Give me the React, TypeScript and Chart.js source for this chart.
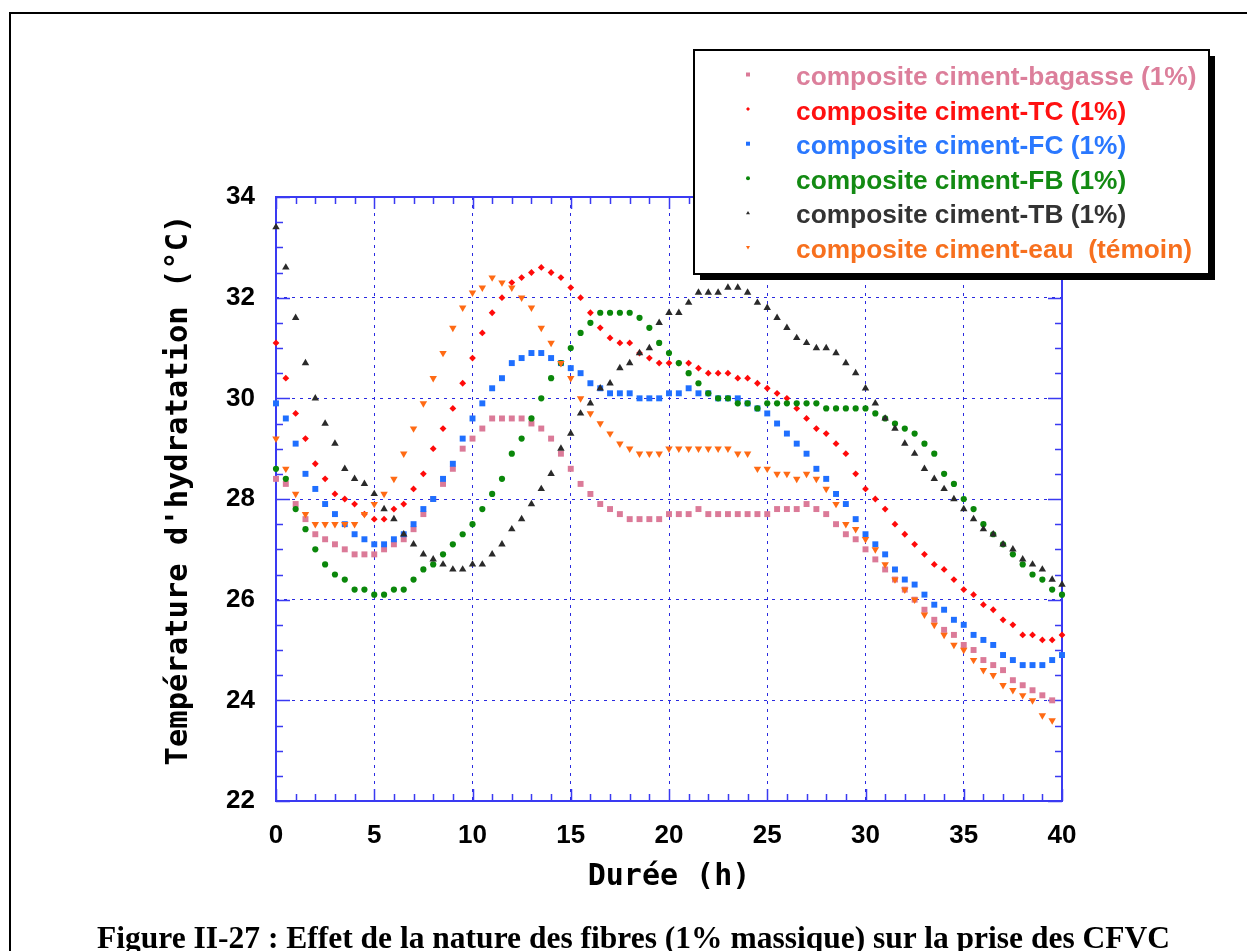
import React, { useEffect, useRef } from 'react';
import { Chart, registerables } from 'chart.js';

Chart.register(...registerables);

// ---------- data ----------
const HOURS = [
  0, 0.5, 1, 1.5, 2, 2.5, 3, 3.5, 4, 4.5,
  5, 5.5, 6, 6.5, 7, 7.5, 8, 8.5, 9, 9.5,
  10, 10.5, 11, 11.5, 12, 12.5, 13, 13.5, 14, 14.5,
  15, 15.5, 16, 16.5, 17, 17.5, 18, 18.5, 19, 19.5,
  20, 20.5, 21, 21.5, 22, 22.5, 23, 23.5, 24, 24.5,
  25, 25.5, 26, 26.5, 27, 27.5, 28, 28.5, 29, 29.5,
  30, 30.5, 31, 31.5, 32, 32.5, 33, 33.5, 34, 34.5,
  35, 35.5, 36, 36.5, 37, 37.5, 38, 38.5, 39, 39.5,
  40,
];

const BAGASSE = [
  28.4, 28.3, 27.9, 27.6, 27.3, 27.2, 27.1, 27.0, 26.9, 26.9,
  26.9, 27.0, 27.1, 27.2, 27.4, 27.7, 28.0, 28.3, 28.6, 29.0,
  29.2, 29.4, 29.6, 29.6, 29.6, 29.6, 29.5, 29.4, 29.2, 28.9,
  28.6, 28.3, 28.1, 27.9, 27.8, 27.7, 27.6, 27.6, 27.6, 27.6,
  27.7, 27.7, 27.7, 27.8, 27.7, 27.7, 27.7, 27.7, 27.7, 27.7,
  27.7, 27.8, 27.8, 27.8, 27.9, 27.8, 27.7, 27.5, 27.3, 27.2,
  27.0, 26.8, 26.6, 26.4, 26.2, 26.0, 25.8, 25.6, 25.4, 25.3,
  25.1, 25.0, 24.8, 24.7, 24.6, 24.4, 24.3, 24.2, 24.1, 24.0,
];

const TC = [
  31.1, 30.4, 29.7, 29.2, 28.7, 28.4, 28.1, 28.0, 27.9, 27.7,
  27.6, 27.6, 27.8, 27.9, 28.2, 28.5, 29.0, 29.4, 29.8, 30.3,
  30.8, 31.3, 31.7, 32.0, 32.3, 32.4, 32.5, 32.6, 32.5, 32.4,
  32.2, 32.0, 31.7, 31.4, 31.2, 31.1, 31.1, 30.9, 30.8, 30.7,
  30.7, 30.7, 30.7, 30.6, 30.5, 30.5, 30.5, 30.4, 30.4, 30.3,
  30.2, 30.1, 30.0, 29.8, 29.6, 29.4, 29.3, 29.1, 28.9, 28.5,
  28.2, 28.0, 27.8, 27.5, 27.3, 27.1, 26.9, 26.7, 26.6, 26.4,
  26.2, 26.1, 25.9, 25.8, 25.6, 25.5, 25.3, 25.3, 25.2, 25.2,
  25.3,
];

const FC = [
  29.9, 29.6, 29.1, 28.5, 28.2, 27.9, 27.7, 27.5, 27.3, 27.2,
  27.1, 27.1, 27.2, 27.3, 27.5, 27.8, 28.0, 28.4, 28.7, 29.2,
  29.6, 29.9, 30.2, 30.4, 30.7, 30.8, 30.9, 30.9, 30.8, 30.7,
  30.6, 30.5, 30.3, 30.2, 30.1, 30.1, 30.1, 30.0, 30.0, 30.0,
  30.1, 30.1, 30.2, 30.1, 30.1, 30.0, 30.0, 30.0, 29.9, 29.8,
  29.7, 29.5, 29.3, 29.1, 28.9, 28.6, 28.4, 28.1, 27.9, 27.6,
  27.3, 27.1, 26.9, 26.6, 26.4, 26.3, 26.1, 25.9, 25.8, 25.6,
  25.5, 25.3, 25.2, 25.1, 24.9, 24.8, 24.7, 24.7, 24.7, 24.8,
  24.9,
];

const FB = [
  28.6, 28.4, 27.8, 27.4, 27.0, 26.7, 26.5, 26.4, 26.2, 26.2,
  26.1, 26.1, 26.2, 26.2, 26.4, 26.6, 26.7, 26.9, 27.1, 27.3,
  27.5, 27.8, 28.1, 28.4, 28.9, 29.2, 29.6, 30.0, 30.4, 30.7,
  31.0, 31.3, 31.5, 31.7, 31.7, 31.7, 31.7, 31.6, 31.4, 31.1,
  30.9, 30.7, 30.5, 30.3, 30.1, 30.0, 30.0, 29.9, 29.9, 29.8,
  29.9, 29.9, 29.9, 29.9, 29.9, 29.9, 29.8, 29.8, 29.8, 29.8,
  29.8, 29.7, 29.6, 29.5, 29.4, 29.3, 29.1, 28.9, 28.5, 28.3,
  28.0, 27.8, 27.5, 27.3, 27.1, 26.9, 26.7, 26.5, 26.4, 26.2,
  26.1,
];

const TB = [
  33.4, 32.6, 31.6, 30.7, 30.0, 29.5, 29.1, 28.6, 28.4, 28.3,
  28.1, 27.8, 27.6, 27.3, 27.1, 26.9, 26.8, 26.7, 26.6, 26.6,
  26.7, 26.7, 26.9, 27.1, 27.4, 27.6, 27.9, 28.2, 28.5, 29.0,
  29.3, 29.7, 29.9, 30.2, 30.3, 30.6, 30.7, 30.9, 31.0, 31.5,
  31.7, 31.7, 31.9, 32.1, 32.1, 32.1, 32.2, 32.2, 32.1, 31.9,
  31.8, 31.6, 31.4, 31.2, 31.1, 31.0, 31.0, 30.9, 30.7, 30.5,
  30.2, 29.9, 29.6, 29.4, 29.1, 28.9, 28.6, 28.4, 28.2, 28.0,
  27.8, 27.6, 27.4, 27.3, 27.1, 27.0, 26.8, 26.7, 26.6, 26.4,
  26.3,
];

const EAU = [
  29.2, 28.6, 28.1, 27.7, 27.5, 27.5, 27.5, 27.5, 27.5, 27.7,
  27.9, 28.1, 28.4, 28.9, 29.4, 29.9, 30.4, 30.9, 31.4, 31.8,
  32.1, 32.2, 32.4, 32.3, 32.2, 32.0, 31.8, 31.4, 31.1, 30.7,
  30.4, 30.0, 29.7, 29.5, 29.3, 29.1, 29.0, 28.9, 28.9, 28.9,
  29.0, 29.0, 29.0, 29.0, 29.0, 29.0, 29.0, 28.9, 28.9, 28.6,
  28.6, 28.5, 28.5, 28.4, 28.5, 28.4, 28.2, 27.9, 27.5, 27.4,
  27.2, 27.0, 26.7, 26.4, 26.2, 26.0, 25.7, 25.5, 25.3, 25.1,
  25.0, 24.8, 24.6, 24.5, 24.3, 24.2, 24.1, 24.0, 23.7, 23.6,
];

const LABELS = [
  'composite ciment-bagasse (1%)',
  'composite ciment-TC (1%)',
  'composite ciment-FC (1%)',
  'composite ciment-FB (1%)',
  'composite ciment-TB (1%)',
  'composite ciment-eau  (témoin)',
];

const X_TITLE = 'Durée (h)';
const Y_TITLE = "Température d'hydratation (°C)";
const CAPTION = 'Figure II-27 : Effet de la nature des fibres (1% massique) sur la prise des CFVC';

// ---------- styles ----------
const COLORS = ['#db7a98', '#ff0a0a', '#1f6fff', '#0a870a', '#2a2a2a', '#ff6a14'];
const TEXT_COLORS = ['#dc7f9b', '#ff1010', '#2a78ff', '#138a13', '#333333', '#f7701e'];
const STYLES = ['rect', 'rectRot', 'rect', 'circle', 'triangle', 'triangle'];
const RADII = [4.2, 3.4, 4.2, 3.1, 4.3, 4.3];
const ROTATIONS = [0, 0, 0, 0, 0, 180];
const ORDERS = [6, 5, 4, 3, 2, 1];
const AXIS_COLOR = '#3a3af2';
const GRID_COLOR = '#2a2ae0';

const SERIES = [BAGASSE, TC, FC, FB, TB, EAU];

function drawMarker(ctx: CanvasRenderingContext2D, style: string, rot: number, x: number, y: number, r: number) {
  ctx.beginPath();
  if (style === 'rect') {
    ctx.rect(x - r, y - r, 2 * r, 2 * r);
  } else if (style === 'rectRot') {
    ctx.moveTo(x, y - r); ctx.lineTo(x + r, y); ctx.lineTo(x, y + r); ctx.lineTo(x - r, y); ctx.closePath();
  } else if (style === 'circle') {
    ctx.arc(x, y, r, 0, Math.PI * 2);
  } else {
    const s = rot ? -1 : 1;
    ctx.moveTo(x, y - s * r); ctx.lineTo(x + r, y + s * r * 0.7); ctx.lineTo(x - r, y + s * r * 0.7); ctx.closePath();
  }
  ctx.fill();
}

const decorPlugin = {
  id: 'decor',
  beforeDatasetsDraw(chart: any) {
    const { ctx, chartArea: a, scales } = chart;
    const x = scales.x, y = scales.y;
    ctx.save();
    ctx.strokeStyle = AXIS_COLOR;
    ctx.lineWidth = 1.5;
    ctx.beginPath();
    for (let v = x.min; v <= x.max; v += 1) {
      const px = Math.round(x.getPixelForValue(v)) + 0.5;
      const len = v % 5 === 0 ? 12 : 7;
      ctx.moveTo(px, a.bottom); ctx.lineTo(px, a.bottom - len);
      ctx.moveTo(px, a.top); ctx.lineTo(px, a.top + len);
    }
    for (let v = y.min; v <= y.max + 1e-9; v += 0.5) {
      const py = Math.round(y.getPixelForValue(v)) + 0.5;
      const len = Math.abs(v % 2) < 1e-9 ? 14 : 7;
      ctx.moveTo(a.left, py); ctx.lineTo(a.left + len, py);
      ctx.moveTo(a.right, py); ctx.lineTo(a.right - len, py);
    }
    ctx.stroke();
    ctx.lineWidth = 2;
    ctx.strokeRect(a.left, a.top, a.right - a.left, a.bottom - a.top);

    // y-axis title
    ctx.translate(179, 490);
    ctx.rotate(-Math.PI / 2);
    ctx.font = 'bold 30.5px "DejaVu Sans Mono", monospace';
    ctx.fillStyle = '#000';
    ctx.textAlign = 'center';
    ctx.textBaseline = 'middle';
    ctx.fillText(Y_TITLE, 0, 0);
    ctx.restore();
  },
  afterDraw(chart: any) {
    const { ctx } = chart;
    ctx.save();
    const lx = 694, ly = 50, lw = 515, lh = 224;
    ctx.fillStyle = '#000';
    ctx.fillRect(lx + 6, ly + 6, lw, lh);
    ctx.fillStyle = '#fff';
    ctx.fillRect(lx, ly, lw, lh);
    ctx.strokeStyle = '#000';
    ctx.lineWidth = 2;
    ctx.strokeRect(lx, ly, lw, lh);
    ctx.font = 'bold 26.3px "Liberation Sans", Arial, sans-serif';
    ctx.textAlign = 'left';
    ctx.textBaseline = 'alphabetic';
    chart.data.datasets.forEach((ds: any, i: number) => {
      const base = 85 + 34.6 * i;
      ctx.fillStyle = COLORS[i];
      drawMarker(ctx, STYLES[i], ROTATIONS[i], 748, base - 10.5, 2);
      ctx.fillStyle = TEXT_COLORS[i];
      ctx.fillText(ds.label, 796, base);
    });
    ctx.restore();
  },
};

export default function App() {
  const ref = useRef<HTMLCanvasElement>(null);

  useEffect(() => {
    const canvas = ref.current;
    if (!canvas) return;
    const datasets = SERIES.map((vals, i) => ({
      label: LABELS[i],
      data: vals.map((v, k) => ({ x: HOURS[k], y: v })),
      backgroundColor: COLORS[i],
      borderColor: COLORS[i],
      borderWidth: 0,
      pointStyle: STYLES[i],
      pointRadius: RADII[i],
      pointRotation: ROTATIONS[i],
      pointBorderWidth: 0,
      pointHoverRadius: RADII[i],
      showLine: false,
      order: ORDERS[i],
      clip: false as any,
    }));
    const tickFont = { family: '"Liberation Sans", Arial, sans-serif', size: 26, weight: 'bold' as const };
    const titleFont = { family: '"DejaVu Sans Mono", monospace', size: 30, weight: 'bold' as const };
    const chart = new Chart(canvas, {
      type: 'scatter',
      data: { datasets },
      options: {
        responsive: false,
        animation: false,
        devicePixelRatio: 1,
        layout: { padding: { left: 0, top: 197, right: 185, bottom: 0 } },
        plugins: { legend: { display: false }, tooltip: { enabled: false }, title: { display: false } },
        events: [],
        scales: {
          x: {
            type: 'linear',
            min: 0,
            max: 40,
            ticks: { stepSize: 5, color: '#000', font: tickFont, padding: 19 },
            grid: { color: GRID_COLOR, lineWidth: 1, drawTicks: false },
            border: { display: false, dash: [3, 5] },
            title: { display: true, text: X_TITLE, color: '#000', font: titleFont, padding: { top: 0, bottom: 56 } },
            afterFit: (s: any) => { s.height = 150; },
          },
          y: {
            type: 'linear',
            min: 22,
            max: 34,
            ticks: { stepSize: 2, color: '#000', font: tickFont, padding: 21 },
            grid: { color: GRID_COLOR, lineWidth: 1, drawTicks: false },
            border: { display: false, dash: [3, 5] },
            title: { display: false, text: Y_TITLE },
            afterFit: (s: any) => { s.width = 276; },
          },
        },
      },
      plugins: [decorPlugin],
    } as any);
    return () => chart.destroy();
  }, []);

  return (
    <div style={{ position: 'fixed', left: 0, top: 0, width: 1247, height: 951, overflow: 'hidden', background: '#fff' }}>
      <div style={{ position: 'absolute', left: 9, top: 12, width: 1400, height: 1100, borderLeft: '2px solid #000', borderTop: '2px solid #000', boxSizing: 'border-box' }} />
      <canvas ref={ref} width={1247} height={951} style={{ position: 'absolute', left: 0, top: 0, width: 1247, height: 951 }} />
      <div style={{ position: 'absolute', left: 0, width: 1267, top: 922, textAlign: 'center', whiteSpace: 'nowrap', font: 'bold 31.5px/31px "Liberation Serif", "Times New Roman", serif', color: '#000' }}>
        {CAPTION}
      </div>
    </div>
  );
}
